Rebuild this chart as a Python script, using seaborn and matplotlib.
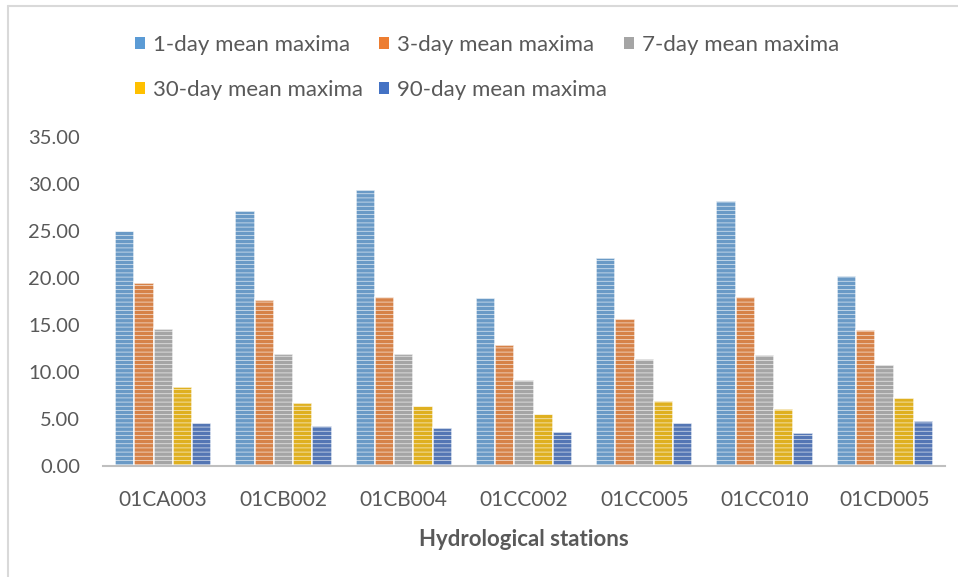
import numpy as np
import pandas as pd
import matplotlib
matplotlib.use("Agg")
import matplotlib.pyplot as plt
import seaborn as sns
from matplotlib.lines import Line2D
from matplotlib.patches import Patch

stations = ["01CA003", "01CB002", "01CB004", "01CC002", "01CC005", "01CC010", "01CD005"]
series = ["1-day mean maxima", "3-day mean maxima", "7-day mean maxima",
          "30-day mean maxima", "90-day mean maxima"]
day1 = [25.0, 27.1, 29.4, 17.9, 22.1, 28.2, 20.2]
day3 = [19.5, 17.7, 18.0, 12.9, 15.6, 18.0, 14.5]
day7 = [14.6, 11.9, 11.9, 9.1, 11.4, 11.8, 10.7]
day30 = [8.4, 6.7, 6.4, 5.5, 6.9, 6.1, 7.2]
day90 = [4.6, 4.3, 4.0, 3.6, 4.6, 3.5, 4.8]
colors = ["#5B9BD5", "#ED7D31", "#A5A5A5", "#FFC000", "#4472C4"]

vals = [day1, day3, day7, day30, day90]
df = pd.DataFrame({
    "station": np.repeat([stations], len(series), axis=0).ravel(),
    "series": np.repeat(series, len(stations)),
    "value": np.concatenate(vals),
})

sns.set_theme(style="white")
plt.rcParams["font.family"] = ["Lato", "DejaVu Sans"]
plt.rcParams["hatch.color"] = (1, 1, 1, 0.3)
plt.rcParams["hatch.linewidth"] = 0.5
txt = "#595959"

fig = plt.figure(figsize=(9.58, 5.77), dpi=100)
ax = fig.add_axes([103/958, (577-466)/577, (945-103)/958, (466-137)/577])
sns.barplot(data=df, x="station", y="value", hue="series", palette=colors,
            order=stations, hue_order=series, width=0.8, ax=ax,
            edgecolor=(1, 1, 1, 0.8), linewidth=1.2, legend=False)
for p in ax.patches:
    p.set_hatch("----")

ax.set_ylim(0, 35)
ax.set_yticks(np.arange(0, 36, 5))
ax.set_yticklabels([f"{v:.2f}" for v in np.arange(0, 36, 5)])
ax.set_xlim(-0.5, len(stations) - 0.5)
for s in ["top", "right", "left"]:
    ax.spines[s].set_visible(False)
ax.spines["bottom"].set_color("#BFBFBF")
ax.spines["bottom"].set_linewidth(1.5)
ax.tick_params(axis="x", length=0, colors=txt, labelsize=15, pad=17)
ax.tick_params(axis="y", length=0, colors=txt, labelsize=14.5, pad=16.5)
ax.set_ylabel("")
ax.set_xlabel("Hydrological stations", fontsize=16, fontweight="bold",
              color=txt, labelpad=14)

handles = [Patch(facecolor=c, edgecolor="none") for c in colors]
order = [0, 3, 1, 4, 2]
fig.legend([handles[i] for i in order], [series[i] for i in order],
           loc="upper left", bbox_to_anchor=(135/958, 1-35/577), ncol=3,
           frameon=False, fontsize=16, labelcolor=txt, handlelength=0.45,
           handleheight=0.45, handletextpad=0.35, columnspacing=0.75,
           labelspacing=1.13, borderaxespad=0, borderpad=0)

fig.add_artist(Line2D([8/958, 8/958], [0, 1-6/577], color="#D9D9D9", lw=1.5,
                      transform=fig.transFigure))
fig.add_artist(Line2D([8/958, 1], [1-6/577, 1-6/577], color="#D9D9D9", lw=1.5,
                      transform=fig.transFigure))

fig.savefig("out.png", dpi=100)
